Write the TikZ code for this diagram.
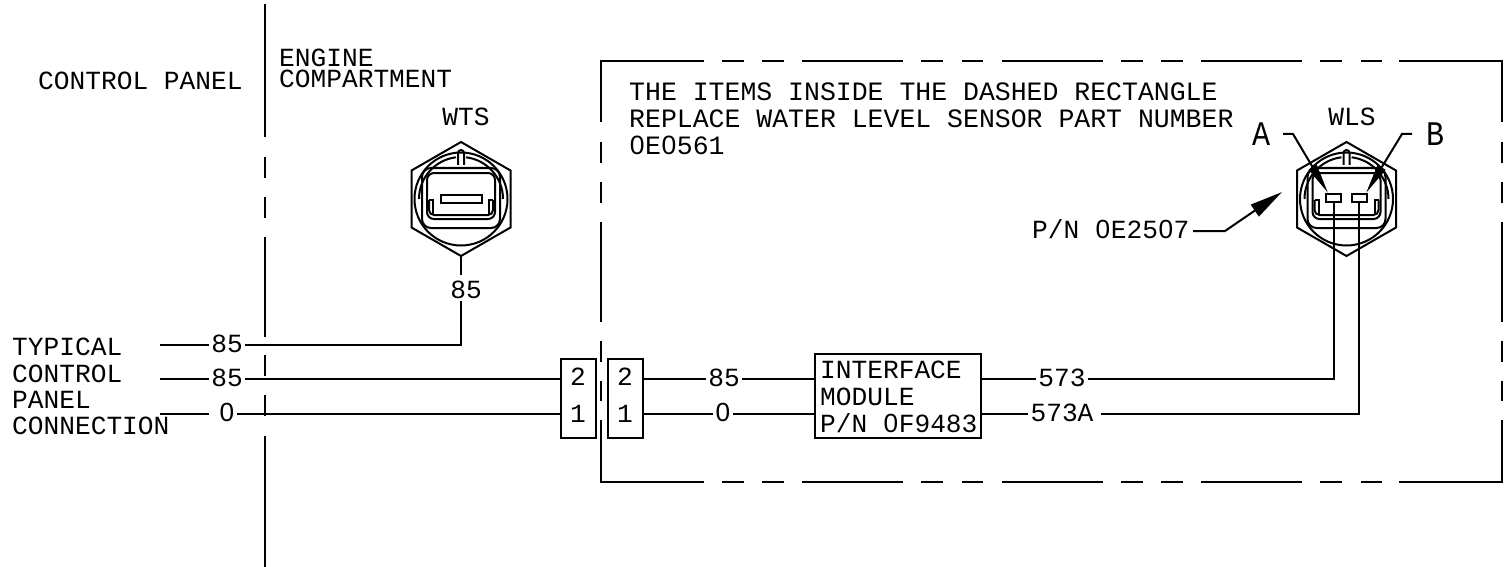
\documentclass[tikz,border=0pt]{standalone}
\usepackage{fontspec}
\usepackage{graphicx}
\setmonofont{Liberation Mono}
\newfontfamily\zerofont{Liberation Sans}
\usetikzlibrary{arrows.meta,calc}
\newcommand\zz{\makebox[0.6em]{\zerofont 0}}
\newcommand\tallglyph[1]{\scalebox{1}[1.15]{#1}}
\tikzset{
  x=1pt,y=-1pt,
  wire/.style={line width=2pt,line cap=butt,line join=miter},
  leader/.style={wire,-{Triangle[length=30pt,width=9pt]}},
  txt/.style={font=\ttfamily\fontsize{26.2}{26.2}\selectfont,inner sep=0pt,anchor=base west},
  note/.style={txt,font=\ttfamily\fontsize{26.5}{26.5}\selectfont},
  lab/.style={font=\ttfamily\fontsize{26.2}{26.2}\selectfont,inner xsep=2pt,inner ysep=0pt,anchor=base,text height=18pt,text depth=0pt},
  big/.style={font=\ttfamily\fontsize{30}{30}\selectfont,inner sep=0pt,anchor=base},
  boxn/.style={draw,line width=2pt,inner sep=0pt,minimum width=35pt,minimum height=79pt,anchor=north west},
  num/.style={txt,anchor=base},
}
\newcommand\sensorbody[1]{%
  \begin{scope}[shift={(#1,199)},wire]
    \draw (0,-57) -- (49.5,-28.5) -- (49.5,28.5) -- (0,57) -- (-49.5,28.5) -- (-49.5,-28.5) -- cycle;
    \draw (0,0) circle[radius=46.5pt];
    \draw (-3,-34) -- (-3,-46) arc[start angle=180,end angle=0,radius=3pt] -- (3,-34);
    \draw (0,0) ++(-42,0) arc[start angle=180,delta angle=-83,radius=42pt];
    \draw (0,0) ++(42,0) arc[start angle=0,delta angle=83,radius=42pt];
    \draw[rounded corners=9pt] (-39,-31) rectangle (39,29);
    \draw[rounded corners=7pt] (-34,-26) rectangle (34,20);
    \draw[rounded corners=5pt] (-32,1) -- (-32,16) -- (32,16) -- (32,1);
    \draw (-32,1) -- (-28,1) -- (-28,16);
    \draw (32,1) -- (28,1) -- (28,16);
  \end{scope}}
\begin{document}
\begin{tikzpicture}
\useasboundingbox (0,0) rectangle (1510,567);
% boundary line
\foreach \a/\b in {4/137,157/178,197/218,237/337,355/376,395/416,436/567}
  \draw[wire] (265,\a) -- (265,\b);
% dashed rectangle
\draw[wire] (704,61) -- (601,61) -- (601,122);
\draw[wire] (1399,61) -- (1502,61) -- (1502,122);
\draw[wire] (704,481.5) -- (601,481.5) -- (601,420);
\draw[wire] (1399,481.5) -- (1502,481.5) -- (1502,420);
\foreach \y in {61,481.5}
  \foreach \a/\b in {722/744,762/784,802/903,921/943,962/983,1002/1103,1121/1143,1161/1183,1201/1302,1320/1342,1361/1382}
    \draw[wire] (\a,\y) -- (\b,\y);
\foreach \x in {601,1502}
  \foreach \a/\b in {142/163,182/203,222/322,341/362,381/401}
    \draw[wire] (\x,\a) -- (\x,\b);
% texts
\node[txt] (cp) at (38,90) {CONTROL PANEL};
\node[txt] (eng) at (279,67) {ENGINE};
\node[txt] (comp) at (279,88) {COMPARTMENT};
\node[txt,anchor=base] (wts) at (466,126) {WTS};
\node[txt,anchor=base] (wls) at (1352,126) {WLS};
\node[note] (n1) at (629,101) {THE ITEMS INSIDE THE DASHED RECTANGLE};
\node[note] (n2) at (629,128) {REPLACE WATER LEVEL SENSOR PART NUMBER};
\node[note] (n3) at (629,155) {\zz E\zz 561};
\node[txt] (t1) at (12,355) {TYPICAL};
\node[txt] (t2) at (12,382) {CONTROL};
\node[txt] (t3) at (12,408) {PANEL};
\node[txt] (t4) at (12,434) {CONNECTION};
% sensors
\sensorbody{461}
\sensorbody{1346.5}
\draw[wire] (1326,194) rectangle (1341,202);
\draw[wire] (1352,194) rectangle (1367,202);
\draw[wire] (441,195) rectangle (482,203);
\coordinate (pa) at (1334,202);
\coordinate (pb) at (1359,202);
% labels on wires
\node[lab] (l1) at (227,352) {85};
\node[lab] (l2) at (227,386) {85};
\node[lab] (l3) at (227,421) {\zz};
\node[lab] (w85) at (466,298) {85};
\node[lab] (r85) at (724,386) {85};
\node[lab] (r0) at (723,421) {\zz};
\node[lab] (m573) at (1062,386) {573};
\node[lab] (m573a) at (1062,421) {573A};
% connector blocks and module
\node[boxn] (c1) at (560,358) {};
\node[boxn] (c2) at (607,358) {};
\node[num] (c1b) at (578,385) {2};
\node[num] (c1a) at (578,422) {1};
\node[num] (c2b) at (625,385) {2};
\node[num] (c2a) at (625,422) {1};
\node[draw,line width=2pt,minimum width=166pt,minimum height=84pt,inner sep=0pt,anchor=north west] (im) at (814,353) {};
\node[txt] (im1) at (820,378) {INTERFACE};
\node[txt] (im2) at (820,405) {MODULE};
\node[txt] (im3) at (820,432) {P/N \zz F9483};
% wires
\coordinate (s1) at (160,345);
\coordinate (s2) at (160,379);
\coordinate (s3) at (160,414);
\draw[wire] (s1) -- (l1.west |- s1);
\draw[wire] (l1.east |- s1) -- (461,345) -- (461,301);
\draw[wire] (461,275) -- (461,256);
\draw[wire] (s2) -- (l2.west |- s2);
\draw[wire] (l2.east |- s2) -- (c1.west |- s2);
\draw[wire] (s3) -- ($(l3.west |- s3)+(-8,0)$);
\draw[wire] (l3.east |- s3) -- (c1.west |- s3);
\draw[wire] (c2.east |- s2) -- (r85.west |- s2);
\draw[wire] (r85.east |- s2) -- (im.west |- s2);
\draw[wire] (c2.east |- s3) -- (r0.west |- s3);
\draw[wire] (r0.east |- s3) -- (im.west |- s3);
\draw[wire] (im.east |- s2) -- (m573.west |- s2);
\draw[wire] (m573.east |- s2) -- (pa |- s2) -- (pa);
\draw[wire] (im.east |- s3) -- (m573a.west |- s3);
\draw[wire] ($(m573a.east |- s3)+(5,0)$) -- (pb |- s3) -- (pb);
% leaders
\node[big] (A) at (1261,146) {\tallglyph{A}};
\node[big] (B) at (1435,146) {\tallglyph{B}};
\node[txt] (pn) at (1032,238) {P/N \zz E25\zz 7};
\coordinate (ta) at (1328,193);
\coordinate (tb) at (1366,193);
\coordinate (pa1) at (1193,231);
\draw[leader] (1283,134) -- (1293,134) -- (ta);
\draw[leader] (1412,134) -- (1402,134) -- (tb);
\draw[wire,-{Triangle[length=33pt,width=14pt]}] (pa1) -- (1225,231) -- (1282,192);
\end{tikzpicture}
\end{document}
